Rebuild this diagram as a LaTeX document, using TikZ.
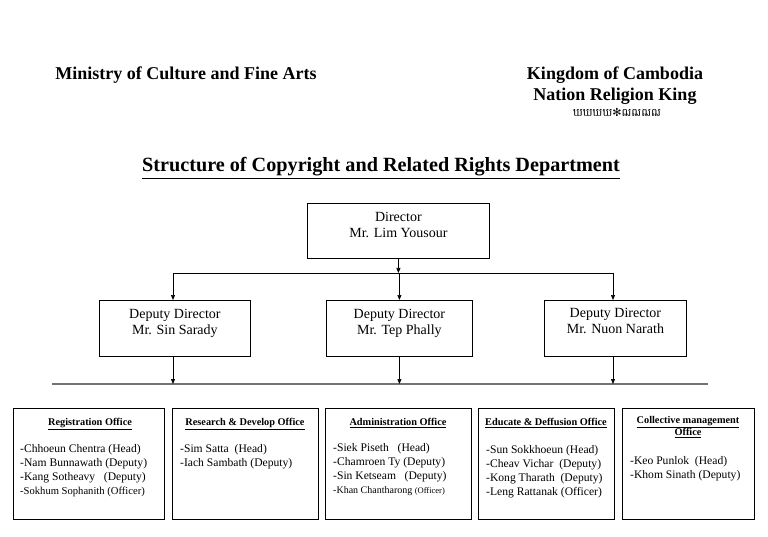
\documentclass[tikz,border=0pt]{standalone}
\usepackage{fontspec}
\setmainfont{Liberation Serif}
\newfontfamily\khmerfont[Script=Khmer]{Battambang}
\newfontfamily\symfont{DejaVu Sans}
\usetikzlibrary{arrows.meta}
\begin{document}
\begin{tikzpicture}[x=1pt,y=-1pt,
  box/.style={draw,line width=0.8pt,rectangle,inner sep=0pt,anchor=north west},
  boxtxt/.style={align=center,font=\fontsize{14}{16}\selectfont,inner sep=0pt},
  ohead/.style={font=\fontsize{10.3}{12}\selectfont\bfseries,align=center,inner sep=0pt,anchor=north},
  olist/.style={font=\fontsize{11.6}{14}\selectfont,align=left,inner sep=0pt,anchor=north west},
  conn/.style={line width=0.7pt,-{Triangle[length=5pt,width=4pt]}},
  bus/.style={line width=0.7pt}]
\useasboundingbox (0,0) rectangle (768,537);
% headers
\node[font=\fontsize{18}{20}\selectfont\bfseries,inner sep=0pt] (min) at (186,75) {Ministry of Culture and Fine Arts};
\node[font=\fontsize{18}{21}\selectfont\bfseries,inner sep=0pt,align=center] (kc) at (615,86) {Kingdom of Cambodia\\Nation Religion King};
\node[inner sep=0pt,font=\fontsize{11}{12}\selectfont] (orn) at (617,112) {\khmerfont ឃឃឃឃ\symfont ✻\khmerfont ឍឍឍឍ};
\node[font=\fontsize{20.2}{23}\selectfont\bfseries,inner sep=0pt] (title) at (381,168) {\underline{Structure of Copyright and Related Rights Department}};
% director
\node[box,minimum width=182pt,minimum height=55pt] (dir) at (307,203) {};
\node[boxtxt] (dirt) at ([yshift=6pt]dir.center) {Director\\Mr. Lim Yousour};
% deputies
\node[box,minimum width=151pt,minimum height=56pt] (dep1) at (99,300) {};
\node[boxtxt] (dep1t) at ([yshift=5pt]dep1.center) {Deputy Director\\Mr. Sin Sarady};
\node[box,minimum width=146pt,minimum height=56pt] (dep2) at (326,300) {};
\node[boxtxt] (dep2t) at ([yshift=5pt]dep2.center) {Deputy Director\\Mr. Tep Phally};
\node[box,minimum width=142pt,minimum height=56pt] (dep3) at (544,300) {};
\node[boxtxt] (dep3t) at ([yshift=7pt]dep3.center) {Deputy Director\\Mr. Nuon Narath};
% bus lines
\coordinate (busL) at (173,273);
\coordinate (busR) at (613,273);
\draw[bus] (busL) -- (busR);
\draw[conn] (dir.south) -- (dir.south |- busL);
\draw[conn] (busL) -- (busL |- dep1.north);
\draw[conn] (dep2.north |- busL) -- (dep2.north);
\draw[conn] (busR) -- (busR |- dep3.north);
\coordinate (lineL) at (52,384);
\coordinate (lineR) at (708,384);
\draw[line width=1.3pt,black!55] (lineL) -- (lineR);
\draw[conn] (dep1.south -| busL) -- (busL |- lineL);
\draw[conn] (dep2.south) -- (dep2.south |- lineL);
\draw[conn] (dep3.south -| busR) -- (busR |- lineL);
% offices
\node[box,minimum width=151pt,minimum height=111pt] (o1) at (13,408) {};
\node[ohead] (o1h) at (90,418) {\underline{Registration Office}};
\node[olist] (o1l) at (20,444) {-Chhoeun Chentra (Head)\\-Nam Bunnawath (Deputy)\\-Kang Sotheavy\ \ \ (Deputy)\\{\fontsize{10.6}{14}\selectfont-Sokhum Sophanith (Officer)}};
\node[box,minimum width=146pt,minimum height=111pt] (o2) at (172,408) {};
\node[ohead] (o2h) at (245,418) {\underline{Research \& Develop Office}};
\node[olist] (o2l) at (180,444) {-Sim Satta\ \ (Head)\\-Iach Sambath (Deputy)};
\node[box,minimum width=146pt,minimum height=111pt] (o3) at (325,408) {};
\node[ohead] (o3h) at (398,418) {\underline{Administration Office}};
\node[olist] (o3l) at (333,443) {-Siek Piseth\ \ \ (Head)\\-Chamroen Ty (Deputy)\\-Sin Ketseam\ \ \ (Deputy)\\{\fontsize{10}{14}\selectfont-Khan Chantharong {\fontsize{8.5}{14}\selectfont(Officer)}}};
\node[box,minimum width=136pt,minimum height=111pt] (o4) at (478,408) {};
\node[ohead] (o4h) at (546,418) {\underline{Educate \& Deffusion Office}};
\node[olist] (o4l) at (486,445) {-Sun Sokkhoeun (Head)\\-Cheav Vichar\ \ (Deputy)\\-Kong Tharath\ \ (Deputy)\\-Leng Rattanak (Officer)};
\node[box,minimum width=132pt,minimum height=111pt] (o5) at (622,408) {};
\node[ohead,align=center] (o5h) at (688,416) {\underline{Collective management}\\\underline{Office}};
\node[olist] (o5l) at (630,456) {-Keo Punlok\ \ (Head)\\-Khom Sinath (Deputy)};
\end{tikzpicture}
\end{document}
